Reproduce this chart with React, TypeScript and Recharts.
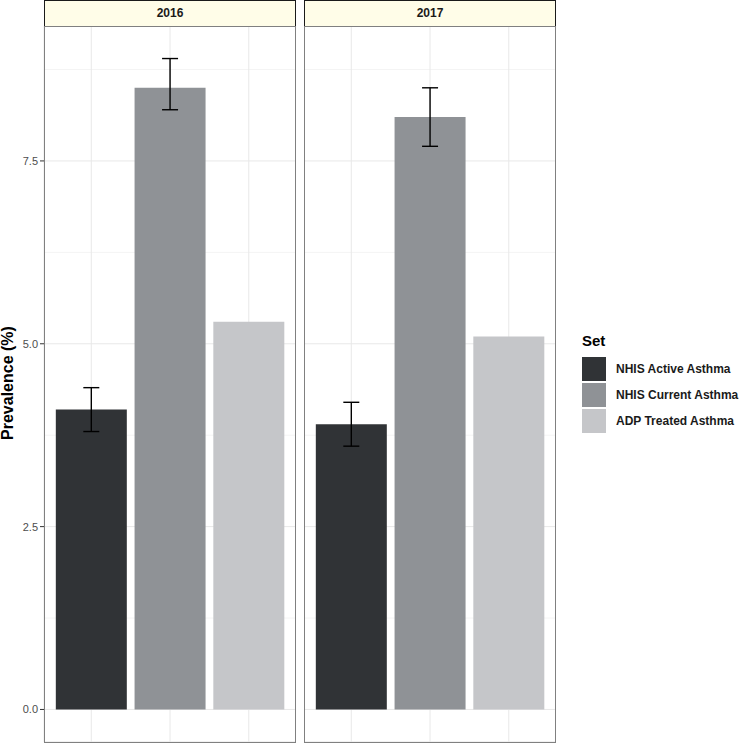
import { Bar, BarChart, CartesianGrid, Cell, ErrorBar, XAxis, YAxis } from "recharts";

const sets = ["NHIS Active Asthma", "NHIS Current Asthma", "ADP Treated Asthma"];
const setColors = ["#303336", "#8f9296", "#c5c6c9"];
const years = ["2016", "2017"];
const prevalence2016 = [4.1, 8.5, 5.3];
const prevalence2017 = [3.9, 8.1, 5.1];
const lower2016 = [3.8, 8.2, null];
const upper2016 = [4.4, 8.9, null];
const lower2017 = [3.6, 7.7, null];
const upper2017 = [4.2, 8.5, null];
const majorTicks = [0, 2.5, 5, 7.5];
const minorTicks = [1.25, 3.75, 6.25, 8.75];
const yDomain = [-0.445, 9.345];

const font = "'Liberation Sans', Arial, sans-serif";

function buildRows(values: number[], lower: (number | null)[], upper: (number | null)[]) {
  return sets.map((set, i) => ({
    set,
    value: values[i],
    err: lower[i] == null ? undefined : [values[i] - (lower[i] as number), (upper[i] as number) - values[i]]
  }));
}

const facets = [
  { year: years[0], rows: buildRows(prevalence2016, lower2016, upper2016) },
  { year: years[1], rows: buildRows(prevalence2017, lower2017, upper2017) }
];

function Panel({ rows, year, left, showAxis }: any) {
  const axisW = showAxis ? 44 : 0;
  return (
    <>
      <div
        style={{
          position: "absolute",
          left: left + axisW,
          top: 0,
          width: 252,
          height: 27,
          boxSizing: "border-box",
          border: "1px solid #1a1a1a",
          background: "#fffde8",
          fontFamily: font,
          fontWeight: 700,
          fontSize: 12,
          color: "#1a1a1a",
          textAlign: "center",
          lineHeight: "25px"
        }}
      >
        {year}
      </div>
      <div style={{ position: "absolute", left, top: 26 }}>
        <BarChart
          width={252 + axisW}
          height={716}
          data={rows}
          margin={{ top: 0, right: 0, bottom: 0, left: 0 }}
          barCategoryGap="5%"
        >
          <CartesianGrid yAxisId="minor" vertical={false} stroke="#f4f4f4" />
          <CartesianGrid stroke="#e8e8e8" />
          <XAxis dataKey="set" hide interval={0} padding={{ left: 7.875, right: 7.875 }} />
          <YAxis
            domain={yDomain}
            allowDataOverflow
            ticks={majorTicks}
            interval={0}
            tickFormatter={(v: number) => v.toFixed(1)}
            width={44}
            hide={!showAxis}
            axisLine={false}
            tickSize={4}
            tickMargin={2}
            tickLine={{ stroke: "#333333" }}
            tick={{ fill: "#4d4d4d", fontSize: 11, fontFamily: font }}
          />
          <YAxis yAxisId="minor" domain={yDomain} allowDataOverflow ticks={minorTicks} interval={0} hide />
          <Bar dataKey="value" isAnimationActive={false}>
            {rows.map((r: any, i: number) => (
              <Cell key={r.set} fill={setColors[i]} />
            ))}
            <ErrorBar dataKey="err" width={8} stroke="#000000" strokeWidth={1.4} direction="y" />
          </Bar>
        </BarChart>
      </div>
      <div
        style={{
          position: "absolute",
          left: left + axisW,
          top: 26,
          width: 252,
          height: 717,
          boxSizing: "border-box",
          border: "1px solid #808080",
          pointerEvents: "none"
        }}
      />
    </>
  );
}

export default function App() {
  return (
    <div style={{ position: "absolute", left: 0, top: 0, width: 739, height: 743, background: "#fff", overflow: "hidden" }}>
      <div
        style={{
          position: "absolute",
          left: 8,
          top: 383,
          transform: "translate(-50%, -50%) rotate(-90deg)",
          whiteSpace: "nowrap",
          fontFamily: font,
          fontWeight: 700,
          fontSize: 16,
          color: "#000"
        }}
      >
        Prevalence (%)
      </div>
      <Panel rows={facets[0].rows} year={facets[0].year} left={0} showAxis />
      <Panel rows={facets[1].rows} year={facets[1].year} left={304} showAxis={false} />
      <div style={{ position: "absolute", left: 582, top: 332, fontFamily: font }}>
        <div style={{ fontWeight: 700, fontSize: 15, color: "#000", marginBottom: 7 }}>Set</div>
        {sets.map((s, i) => (
          <div key={s} style={{ display: "flex", alignItems: "center", height: 26 }}>
            <div style={{ width: 24, height: 24, background: setColors[i] }} />
            <div style={{ marginLeft: 10, fontSize: 12, fontWeight: 700, color: "#1a1a1a" }}>{s}</div>
          </div>
        ))}
      </div>
    </div>
  );
}
